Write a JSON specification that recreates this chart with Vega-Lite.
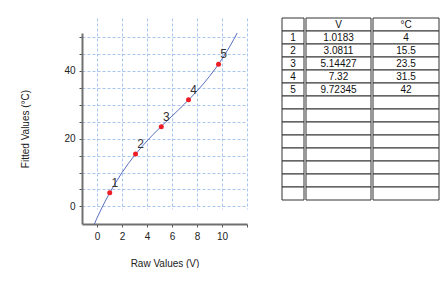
{
  "$schema": "https://vega.github.io/schema/vega-lite/v6.json",
  "background": "white",
  "padding": {"left": 20, "top": 17, "right": 0, "bottom": 0},
  "spacing": 33,
  "config": {
    "view": {"stroke": null},
    "font": "Liberation Sans",
    "axis": {
      "labelFont": "Liberation Sans",
      "titleFont": "Liberation Sans",
      "labelFontSize": 10,
      "titleFontSize": 10,
      "titleFontWeight": "normal",
      "labelColor": "#222222",
      "titleColor": "#222222",
      "grid": true,
      "gridColor": "#a8c6ec",
      "gridDash": [3, 2],
      "gridWidth": 1,
      "domainColor": "#707070",
      "domainWidth": 2,
      "tickSize": 3,
      "tickColor": "#555555",
      "labelPadding": 4,
      "labelFlush": false,
      "labelOverlap": false,
      "tickCount": 30,
      "format": "d"
    }
  },
  "datasets": {
    "curve": [
      {"raw": -0.21, "fitted": -5.2},
      {"raw": 0, "fitted": -3.43},
      {"raw": 0.5, "fitted": 0.41},
      {"raw": 1, "fitted": 3.9},
      {"raw": 1.5, "fitted": 7.08},
      {"raw": 2, "fitted": 9.97},
      {"raw": 2.5, "fitted": 12.61},
      {"raw": 3, "fitted": 15.03},
      {"raw": 3.5, "fitted": 17.25},
      {"raw": 4, "fitted": 19.32},
      {"raw": 4.5, "fitted": 21.27},
      {"raw": 5, "fitted": 23.12},
      {"raw": 5.5, "fitted": 24.91},
      {"raw": 6, "fitted": 26.67},
      {"raw": 6.5, "fitted": 28.43},
      {"raw": 7, "fitted": 30.23},
      {"raw": 7.5, "fitted": 32.1},
      {"raw": 8, "fitted": 34.06},
      {"raw": 8.5, "fitted": 36.15},
      {"raw": 9, "fitted": 38.4},
      {"raw": 9.5, "fitted": 40.85},
      {"raw": 10, "fitted": 43.53},
      {"raw": 10.5, "fitted": 46.46},
      {"raw": 11, "fitted": 49.68},
      {"raw": 11.21, "fitted": 51.2}
    ],
    "points": [
      {"raw": 1.0183, "fitted": 4, "label": "1"},
      {"raw": 3.0811, "fitted": 15.5, "label": "2"},
      {"raw": 5.14427, "fitted": 23.5, "label": "3"},
      {"raw": 7.32, "fitted": 31.5, "label": "4"},
      {"raw": 9.72345, "fitted": 42, "label": "5"}
    ],
    "table": [
      {"row": 0, "idx": "", "v": "V", "c": "°C"},
      {"row": 1, "idx": "1", "v": "1.0183", "c": "4"},
      {"row": 2, "idx": "2", "v": "3.0811", "c": "15.5"},
      {"row": 3, "idx": "3", "v": "5.14427", "c": "23.5"},
      {"row": 4, "idx": "4", "v": "7.32", "c": "31.5"},
      {"row": 5, "idx": "5", "v": "9.72345", "c": "42"},
      {"row": 6, "idx": "", "v": "", "c": ""},
      {"row": 7, "idx": "", "v": "", "c": ""},
      {"row": 8, "idx": "", "v": "", "c": ""},
      {"row": 9, "idx": "", "v": "", "c": ""},
      {"row": 10, "idx": "", "v": "", "c": ""},
      {"row": 11, "idx": "", "v": "", "c": ""},
      {"row": 12, "idx": "", "v": "", "c": ""},
      {"row": 13, "idx": "", "v": "", "c": ""}
    ]
  },
  "hconcat": [
    {
      "width": 165,
      "height": 206,
      "layer": [
        {
          "data": {"name": "curve"},
          "mark": {"type": "line", "color": "#5a70c0", "strokeWidth": 1, "clip": true},
          "encoding": {
            "x": {
              "field": "raw", "type": "quantitative",
              "scale": {"domain": [-1.2, 12], "nice": false, "zero": false},
              "axis": {
                "title": "Raw Values (V)",
                "values": [0, 2, 4, 6, 8, 10, 12],
                "labelExpr": "datum.value <= 10 ? datum.label : ''",
                "titlePadding": 17
              }
            },
            "y": {
              "field": "fitted", "type": "quantitative",
              "scale": {"domain": [-5.2, 51.2], "nice": false, "zero": false, "range": [206, 15]},
              "axis": {
                "title": "Fitted Values (°C)",
                "values": [0, 5, 10, 15, 20, 25, 30, 35, 40, 45, 50],
                "labelExpr": "datum.value % 20 == 0 ? datum.label : ''",
                "titlePadding": 33
              }
            }
          }
        },
        {
          "data": {"name": "points"},
          "mark": {"type": "point", "filled": true, "color": "#ee1c24", "size": 25, "opacity": 1},
          "encoding": {
            "x": {"field": "raw", "type": "quantitative"},
            "y": {"field": "fitted", "type": "quantitative"}
          }
        },
        {
          "data": {"name": "points"},
          "mark": {"type": "text", "dx": 5, "dy": -10, "fontSize": 12, "color": "#333333"},
          "encoding": {
            "x": {"field": "raw", "type": "quantitative"},
            "y": {"field": "fitted", "type": "quantitative"},
            "text": {"field": "label"}
          }
        }
      ]
    },
    {
      "spacing": 0,
      "hconcat": [
        {
          "width": 22, "height": 182,
          "data": {"name": "table"},
          "layer": [
            {"mark": {"type": "rect", "fill": "white", "stroke": "#333333", "strokeWidth": 1},
             "encoding": {"y": {"field": "row", "type": "ordinal", "scale": {"paddingInner": 0, "paddingOuter": 0}, "axis": null}}},
            {"mark": {"type": "text", "fontSize": 10, "color": "#111111"},
             "encoding": {"y": {"field": "row", "type": "ordinal", "axis": null}, "text": {"field": "idx"}}}
          ]
        },
        {
          "width": 65, "height": 182,
          "data": {"name": "table"},
          "layer": [
            {"mark": {"type": "rect", "fill": "white", "stroke": "#333333", "strokeWidth": 1},
             "encoding": {"y": {"field": "row", "type": "ordinal", "scale": {"paddingInner": 0, "paddingOuter": 0}, "axis": null}}},
            {"mark": {"type": "text", "fontSize": 10, "color": "#111111"},
             "encoding": {"y": {"field": "row", "type": "ordinal", "axis": null}, "text": {"field": "v"}}}
          ]
        },
        {
          "width": 66, "height": 182,
          "data": {"name": "table"},
          "layer": [
            {"mark": {"type": "rect", "fill": "white", "stroke": "#333333", "strokeWidth": 1},
             "encoding": {"y": {"field": "row", "type": "ordinal", "scale": {"paddingInner": 0, "paddingOuter": 0}, "axis": null}}},
            {"mark": {"type": "text", "fontSize": 10, "color": "#111111"},
             "encoding": {"y": {"field": "row", "type": "ordinal", "axis": null}, "text": {"field": "c"}}}
          ]
        }
      ]
    }
  ]
}
